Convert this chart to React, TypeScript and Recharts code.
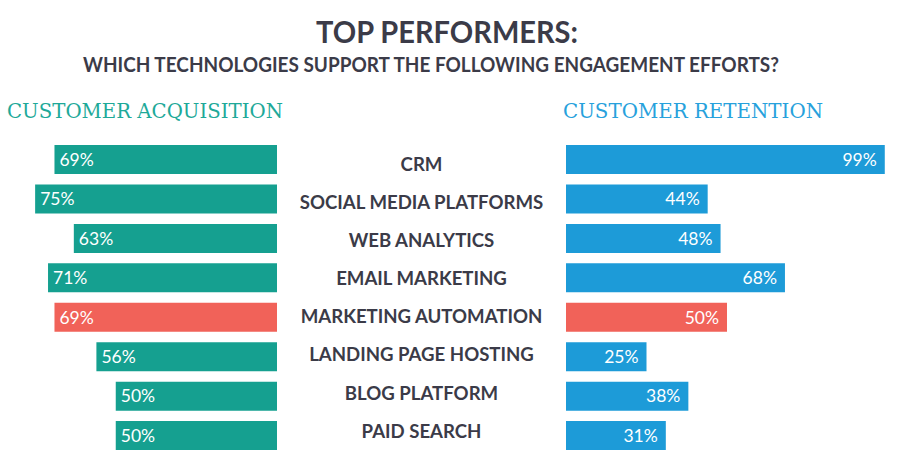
import React from "react";
import { BarChart, Bar, XAxis, YAxis, LabelList, Cell } from "recharts";

const categories = [
  "CRM",
  "SOCIAL MEDIA PLATFORMS",
  "WEB ANALYTICS",
  "EMAIL MARKETING",
  "MARKETING AUTOMATION",
  "LANDING PAGE HOSTING",
  "BLOG PLATFORM",
  "PAID SEARCH",
];
const acquisition = [69, 75, 63, 71, 69, 56, 50, 50];
const retention = [99, 44, 48, 68, 50, 25, 38, 31];
const highlighted = "MARKETING AUTOMATION";

const TEAL = "#15a090";
const BLUE = "#1d9bd8";
const RED = "#f16259";
const DARK = "#3b3b48";

const data = categories.map((name, i) => ({
  name,
  acq: acquisition[i],
  ret: retention[i],
}));

const SANS = "Lato, 'Noto Sans', sans-serif";

const LeftLabel = (props: any) => {
  const { x, y, width, height, value } = props;
  const left = Math.min(x, x + width);
  return (
    <text
      x={left + 5}
      y={y + height / 2}
      dy="0.36em"
      fill="#ffffff"
      fontFamily={SANS}
      fontSize={17.5}
      textAnchor="start"
    >
      {value}%
    </text>
  );
};

const RightLabel = (props: any) => {
  const { x, y, width, height, value } = props;
  const right = Math.max(x, x + width);
  return (
    <text
      x={right - 8}
      y={y + height / 2}
      dy="0.36em"
      fill="#ffffff"
      fontFamily={SANS}
      fontSize={17.5}
      textAnchor="end"
    >
      {value}%
    </text>
  );
};

const CenterTick = (props: any) => {
  const { y, payload, index } = props;
  const i = typeof index === "number" ? index : payload.index ?? 0;
  return (
    <text
      x={144.5}
      y={y + 4.5 - 1.33 * i}
      dy="0.36em"
      fill={DARK}
      fontFamily={SANS}
      fontWeight={700}
      fontSize={18.6}
      textAnchor="middle"
    >
      {payload.value}
    </text>
  );
};

export default function App() {
  return (
    <div
      style={{
        position: "absolute",
        left: 0,
        top: 0,
        width: 900,
        height: 470,
        background: "#ffffff",
        overflow: "hidden",
      }}
    >
      <svg
        width={900}
        height={470}
        style={{ position: "absolute", left: 0, top: 0 }}
      >
        <text
          x={316}
          y={43}
          fill={DARK}
          fontFamily={SANS}
          fontWeight={700}
          fontSize={30}
          textLength={262}
          lengthAdjust="spacingAndGlyphs"
        >
          TOP PERFORMERS:
        </text>
        <text
          x={83}
          y={72}
          fill={DARK}
          fontFamily={SANS}
          fontWeight={700}
          fontSize={20}
          textLength={696}
          lengthAdjust="spacingAndGlyphs"
        >
          WHICH TECHNOLOGIES SUPPORT THE FOLLOWING ENGAGEMENT EFFORTS?
        </text>
        <text
          x={7}
          y={118}
          fill="#1ea999"
          fontFamily="'DejaVu Serif', serif"
          fontSize={20.5}
          textLength={276}
          lengthAdjust="spacingAndGlyphs"
        >
          CUSTOMER ACQUISITION
        </text>
        <text
          x={563}
          y={118}
          fill="#27a1dc"
          fontFamily="'DejaVu Serif', serif"
          fontSize={20.5}
          textLength={260}
          lengthAdjust="spacingAndGlyphs"
        >
          CUSTOMER RETENTION
        </text>
      </svg>

      <div style={{ position: "absolute", left: 0, top: 0 }}>
        <BarChart
          width={277}
          height={470}
          data={data}
          layout="vertical"
          margin={{ top: 140, right: 0, bottom: 14.5, left: 19 }}
        >
          <XAxis type="number" domain={[0, 80]} reversed hide />
          <YAxis type="category" dataKey="name" hide />
          <Bar dataKey="acq" barSize={29} isAnimationActive={false}>
            {data.map((d) => (
              <Cell key={d.name} fill={d.name === highlighted ? RED : TEAL} />
            ))}
            <LabelList dataKey="acq" content={LeftLabel} />
          </Bar>
        </BarChart>
      </div>

      <div style={{ position: "absolute", left: 277, top: 0 }}>
        <BarChart
          width={623}
          height={470}
          data={data}
          layout="vertical"
          margin={{ top: 140, right: 12, bottom: 14.5, left: 0 }}
        >
          <XAxis type="number" domain={[0, 100]} hide />
          <YAxis
            type="category"
            dataKey="name"
            width={289}
            axisLine={false}
            tickLine={false}
            tick={CenterTick}
            interval={0}
          />
          <Bar dataKey="ret" barSize={29} isAnimationActive={false}>
            {data.map((d) => (
              <Cell key={d.name} fill={d.name === highlighted ? RED : BLUE} />
            ))}
            <LabelList dataKey="ret" content={RightLabel} />
          </Bar>
        </BarChart>
      </div>
    </div>
  );
}
